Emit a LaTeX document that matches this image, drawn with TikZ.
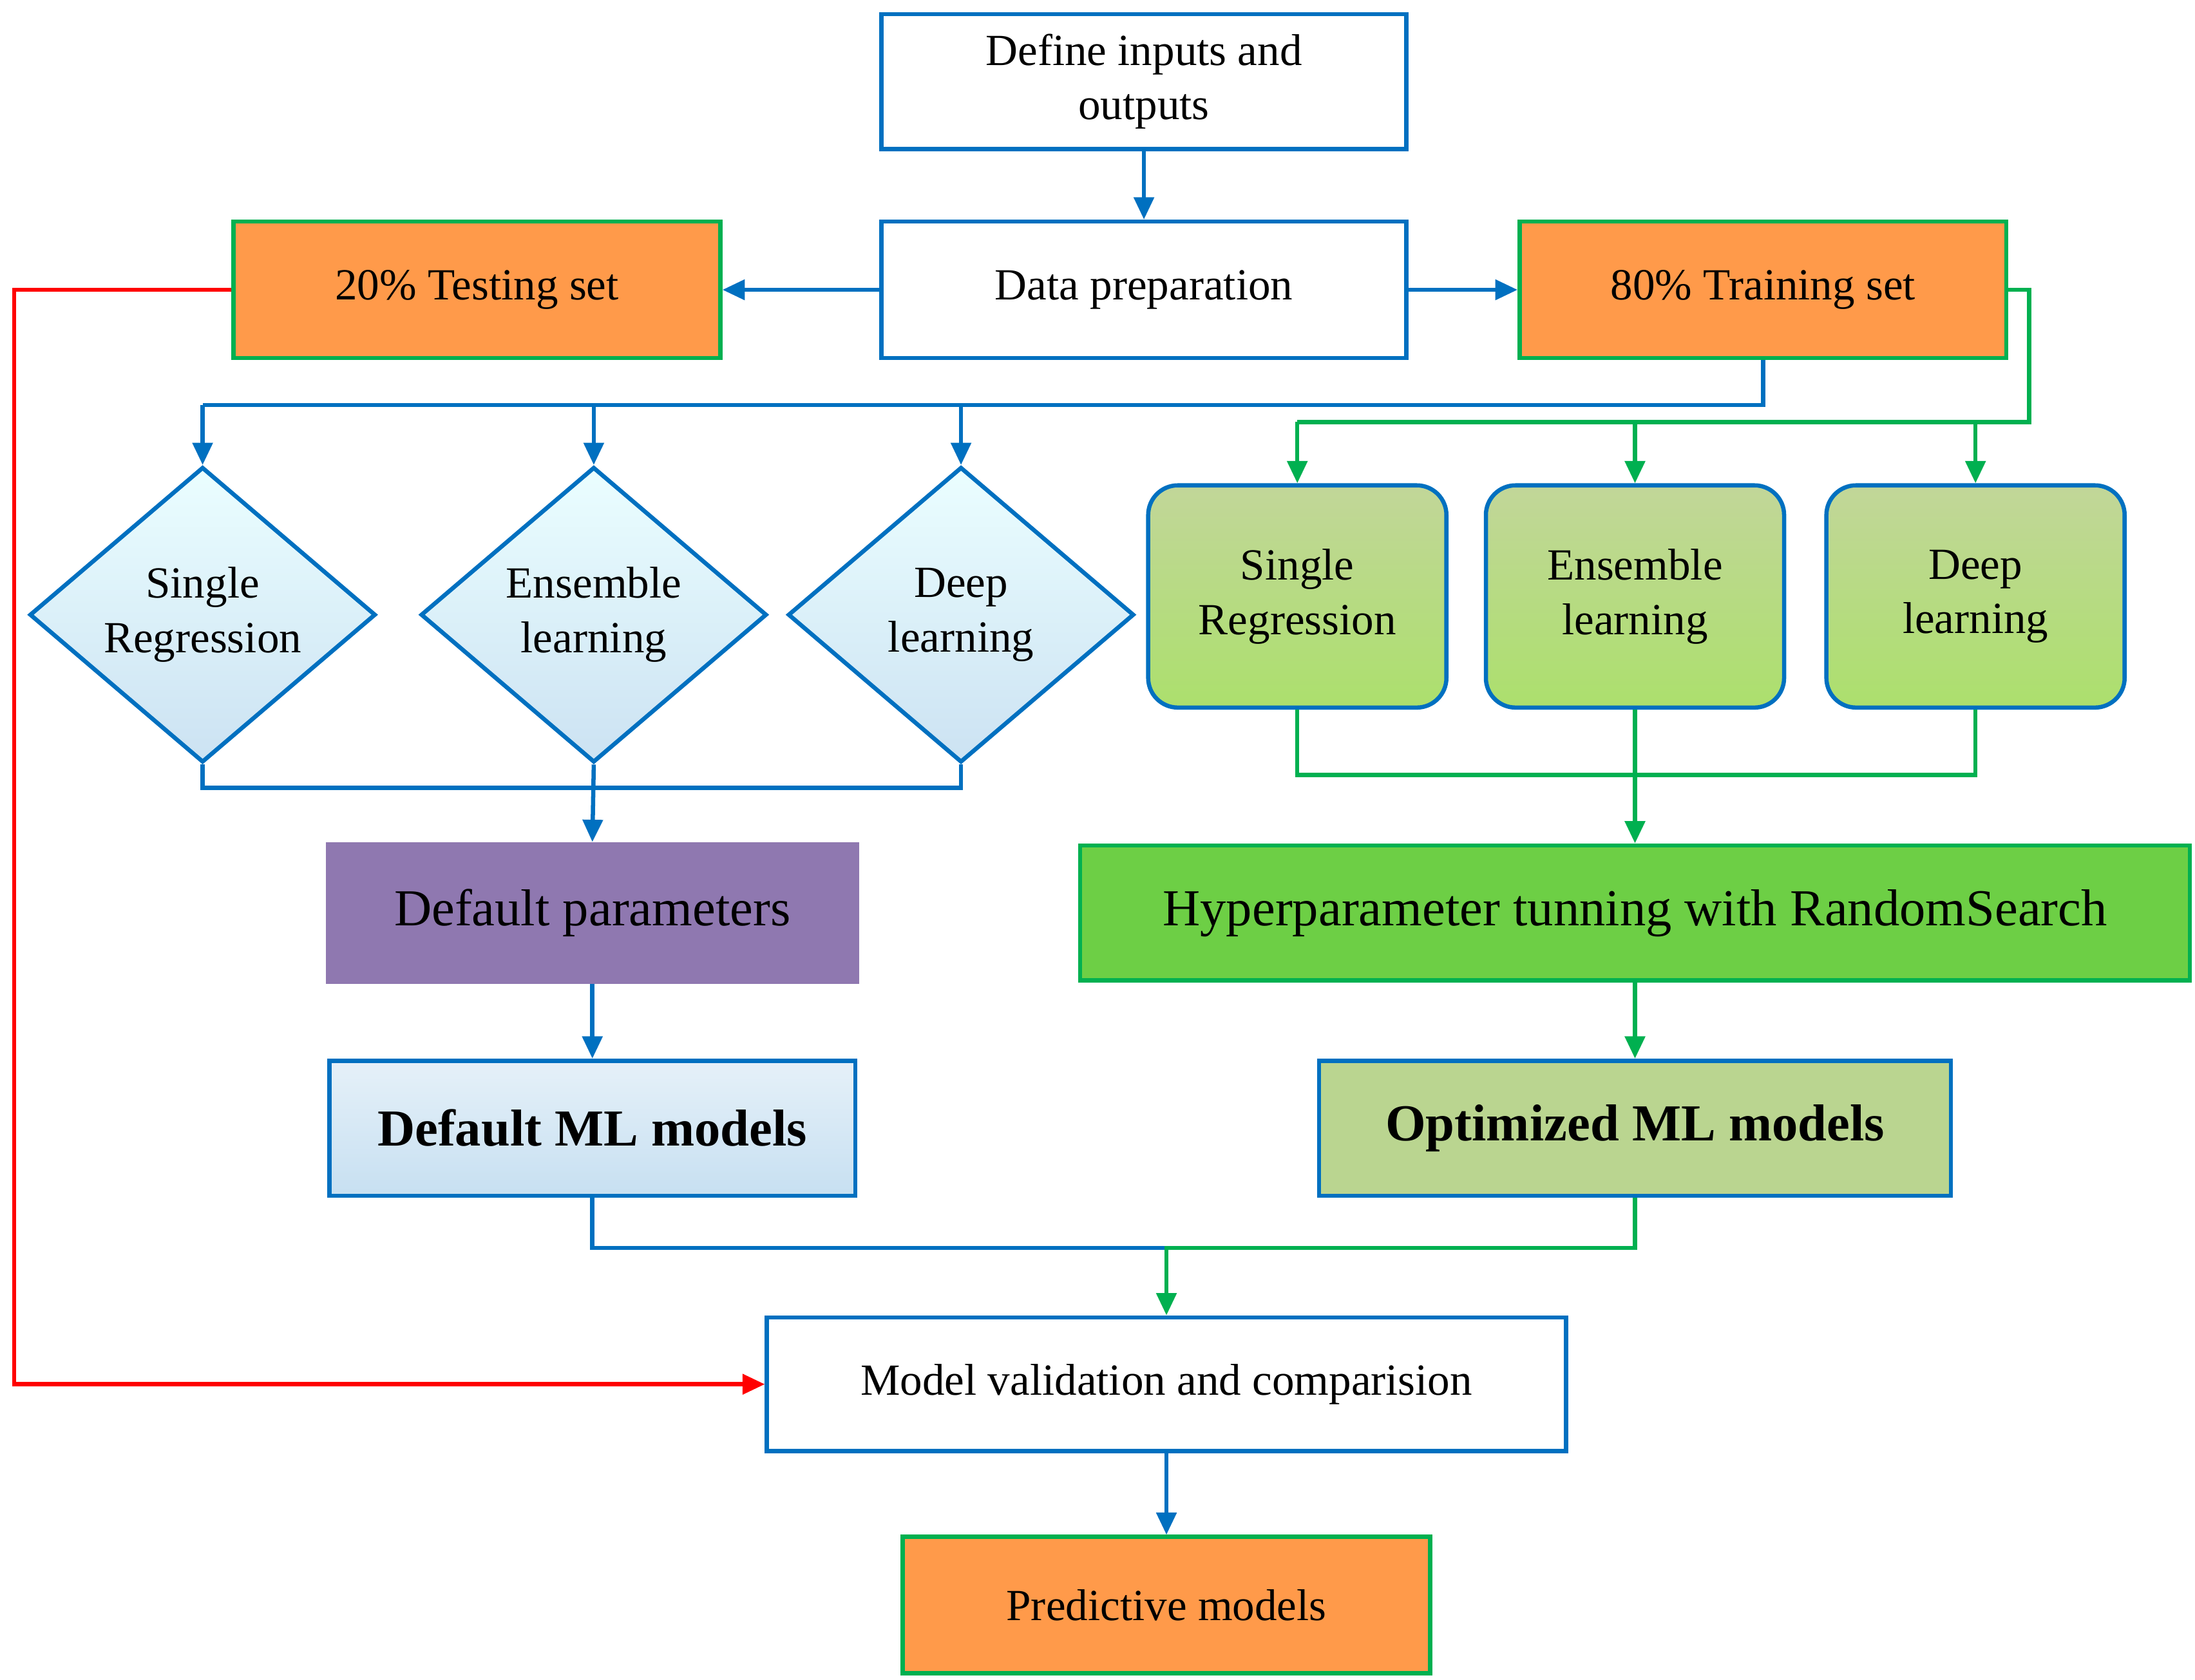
\documentclass[tikz,border=0pt]{standalone}
\usepackage{fontspec}
\setmainfont{Liberation Serif}
\usetikzlibrary{shapes.geometric,arrows.meta}
\definecolor{cblue}{HTML}{0070C0}
\definecolor{cgreen}{HTML}{00B050}
\definecolor{corange}{HTML}{FF9A4A}
\definecolor{cred}{HTML}{FF0000}
\definecolor{cpurple}{HTML}{8F78B0}
\definecolor{chyper}{HTML}{6DCF45}
\begin{document}
\begin{tikzpicture}[x=0.02cm,y=-0.02cm,
  base/.style={draw, line width=1.7pt, align=center, inner sep=2pt, font=\fontsize{18}{22}\selectfont},
  wbox/.style={base, draw=cblue, fill=white},
  obox/.style={base, draw=cgreen, fill=corange},
  dia/.style={base, diamond, draw=cblue, top color=blue!5!cyan!8!white, bottom color=cblue!20!white, inner sep=0pt, aspect=1.17, minimum width=4.92cm, minimum height=4.2cm},
  rbox/.style={base, rounded corners=12pt, draw=cblue, top color=green!20!olive!40!white, bottom color=olive!55!green!45!white, minimum width=4.24cm, minimum height=3.16cm},
  arr/.style={line width=1.7pt, -{Triangle[length=9pt,width=8pt]}},
  ln/.style={line width=1.7pt}]
\useasboundingbox (0,0) rectangle (1560,1194);
\node[wbox, minimum width=7.46cm, minimum height=1.92cm] (def) at (813,58) {Define inputs and\\outputs};
\node[wbox, minimum width=7.46cm, minimum height=1.94cm] (prep) at (813,206) {Data preparation};
\node[obox, minimum width=6.92cm, minimum height=1.94cm] (test) at (339,206) {20\% Testing set};
\node[obox, minimum width=6.92cm, minimum height=1.94cm] (train) at (1253,206) {80\% Training set};
\node[dia] (d1) at (144,437) {Single\\Regression};
\node[dia] (d2) at (422,437) {Ensemble\\learning};
\node[dia] (d3) at (683,437) {Deep\\learning};
\node[rbox] (r1) at (922,424) {Single\\Regression};
\node[rbox] (r2) at (1162,424) {Ensemble\\learning};
\node[rbox] (r3) at (1404,424) {Deep\\learning};
\node[base, draw=cpurple, fill=cpurple, minimum width=7.52cm, minimum height=1.96cm, font=\fontsize{21}{25}\selectfont] (dp) at (421,649) {Default parameters};
\node[base, draw=cgreen, fill=chyper, minimum width=15.78cm, minimum height=1.92cm, font=\fontsize{21}{25}\selectfont] (hp) at (1162,649) {Hyperparameter tunning with RandomSearch};
\node[base, draw=cblue, top color=cblue!10!white, bottom color=cblue!22!white, minimum width=7.48cm, minimum height=1.92cm, font=\fontsize{21}{25}\selectfont\bfseries] (dm) at (421,802) {Default ML models};
\node[base, draw=cblue, fill=olive!50!green!40!white, minimum width=8.98cm, minimum height=1.92cm, font=\fontsize{21}{25}\selectfont\bfseries] (om) at (1162,802) {Optimized ML models};
\node[wbox, minimum width=11.36cm, minimum height=1.9cm] (val) at (829,984) {Model validation and comparision};
\node[obox, minimum width=7.5cm, minimum height=1.94cm] (pred) at (829,1141) {Predictive models};
% connectors
\draw[arr, cblue] (def) -- (prep);
\draw[arr, cblue] (prep) -- (test);
\draw[arr, cblue] (prep) -- (train);
\draw[ln, cblue] (train.south) |- (144,288) coordinate (bl);
\draw[arr, cblue] (bl) -- (d1.north);
\draw[arr, cblue] (d2.north |- bl) -- (d2.north);
\draw[arr, cblue] (d3.north |- bl) -- (d3.north);
\draw[ln, cgreen] (train.east) -- (1442,206) |- (922,300) coordinate (gl);
\draw[arr, cgreen] (gl) -- (r1.north);
\draw[arr, cgreen] (r2.north |- gl) -- (r2.north);
\draw[arr, cgreen] (r3.north |- gl) -- (r3.north);
\draw[ln, cblue] (d1.south) |- (683,560) -- (d3.south);
\draw[arr, cblue] (d2.south) -- (dp.north);
\draw[ln, cgreen] (r1.south) |- (1404,551) -- (r3.south);
\draw[arr, cgreen] (r2.south) -- (hp.north);
\draw[arr, cblue] (dp) -- (dm);
\draw[arr, cgreen] (hp) -- (om);
\draw[ln, cblue] (dm.south) |- (829,887);
\draw[arr, cgreen] (om.south) |- (829,887) -- (val.north);
\draw[arr, cred] (test.west) -- (10,206) |- (val.west);
\draw[arr, cblue] (val) -- (pred);
\end{tikzpicture}
\end{document}
